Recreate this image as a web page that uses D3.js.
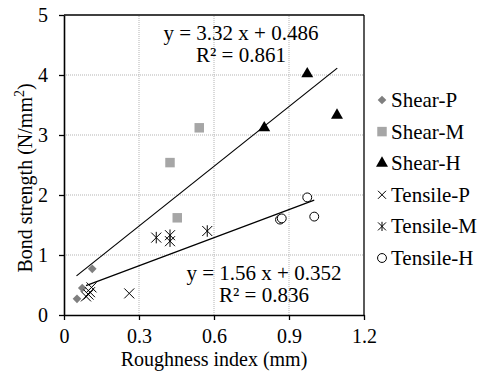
<!DOCTYPE html>
<html>
<head>
  <meta charset="UTF-8">
  <script src="https://d3js.org/d3.v7.min.js"></script>
  <style>
    body { margin: 0; background: #fff; }
    svg text { font-family: "Liberation Serif", Tinos, "Times New Roman", Times, "DejaVu Serif", serif !important; fill: #000; }
  </style>
</head>
<body>
  <div id="chart"></div>
  <script>
    // data: [roughness index (mm), bond strength (N/mm2)]
    const shearP = [[0.052, 0.27], [0.073, 0.45], [0.113, 0.77]];
    const shearM = [[0.424, 2.54], [0.453, 1.62], [0.541, 3.12]];
    const shearH = [[0.801, 3.12], [0.973, 4.02], [1.092, 3.33]];
    const tensileP = [[0.088, 0.31], [0.098, 0.34], [0.104, 0.38], [0.11, 0.46], [0.261, 0.36]];
    const tensileM = [[0.369, 1.29], [0.424, 1.33], [0.424, 1.23], [0.573, 1.40]];
    const tensileH = [[0.864, 1.59], [0.871, 1.61], [0.973, 1.96], [1.001, 1.64]];

    const seriesNames = ["Shear-P", "Shear-M", "Shear-H", "Tensile-P", "Tensile-M", "Tensile-H"];
    const xTicks = [0, 0.3, 0.6, 0.9, 1.2];
    const yTicks = [0, 1, 2, 3, 4, 5];

    // linear trend lines: slope, intercept, x range
    const trendShear = {slope: 3.32, intercept: 0.486, from: 0.05, to: 1.093, eq: "y = 3.32 x + 0.486", r2: "R² = 0.861"};
    const trendTensile = {slope: 1.56, intercept: 0.352, from: 0.088, to: 1.001, eq: "y = 1.56 x + 0.352", r2: "R² = 0.836"};

    const W = 482, H = 372;
    const svg = d3.select("#chart").append("svg")
      .attr("width", W).attr("height", H);

    const x = d3.scaleLinear().domain([0, 1.2]).range([64, 364]);
    const y = d3.scaleLinear().domain([0, 5]).range([315, 15]);

    // grid
    svg.append("g").selectAll("line")
      .data(xTicks.slice(1, -1)).enter().append("line")
      .attr("x1", d => x(d)).attr("x2", d => x(d))
      .attr("y1", y(0)).attr("y2", y(5))
      .attr("stroke", "#b3b3b3").attr("stroke-dasharray", "1,1");
    svg.append("g").selectAll("line")
      .data(yTicks.slice(1, -1)).enter().append("line")
      .attr("y1", d => y(d)).attr("y2", d => y(d))
      .attr("x1", x(0)).attr("x2", x(1.2))
      .attr("stroke", "#b3b3b3").attr("stroke-dasharray", "1,1");

    // top and right frame
    svg.append("line").attr("x1", x(0)).attr("x2", x(1.2)).attr("y1", y(5)).attr("y2", y(5))
      .attr("stroke", "#000").attr("stroke-width", 1.3);
    svg.append("line").attr("x1", x(1.2)).attr("x2", x(1.2)).attr("y1", y(5)).attr("y2", y(0))
      .attr("stroke", "#000").attr("stroke-width", 1.3);

    // axes
    const xAxis = svg.append("g")
      .attr("transform", `translate(0,${y(0)})`)
      .call(d3.axisBottom(x).tickValues(xTicks).tickFormat(d => d).tickSizeInner(5).tickSizeOuter(0).tickPadding(9));
    const yAxis = svg.append("g")
      .attr("transform", `translate(${x(0)},0)`)
      .call(d3.axisLeft(y).tickValues(yTicks).tickFormat(d => d).tickSizeInner(5).tickSizeOuter(0).tickPadding(11));
    [xAxis, yAxis].forEach(g => {
      g.attr("font-family", null);
      g.select(".domain").attr("stroke", "#000").attr("stroke-width", 1.6);
      g.selectAll(".tick line").attr("stroke", "#000").attr("stroke-width", 1.3);
      g.selectAll(".tick text").style("font-size", "20px").attr("fill", "#000");
    });

    // trend lines
    [trendShear, trendTensile].forEach(t => {
      svg.append("line")
        .attr("x1", x(t.from)).attr("y1", y(t.slope * t.from + t.intercept))
        .attr("x2", x(t.to)).attr("y2", y(t.slope * t.to + t.intercept))
        .attr("stroke", "#000").attr("stroke-width", 1.2);
    });

    // markers
    const cross = r => `M${-r},${-r}L${r},${r}M${-r},${r}L${r},${-r}`;
    const star = r => cross(r) + `M0,${-r * 1.15}L0,${r * 1.15}`;
    const markers = {
      "Shear-P": {data: shearP, path: d3.symbol(d3.symbolDiamond2, 48)(), fill: "#7f7f7f", stroke: "none"},
      "Shear-M": {data: shearM, path: d3.symbol(d3.symbolSquare, 90)(), fill: "#a6a6a6", stroke: "none"},
      "Shear-H": {data: shearH, path: d3.symbol(d3.symbolTriangle, 62)(), fill: "#000", stroke: "none"},
      "Tensile-P": {data: tensileP, path: cross(5), fill: "none", stroke: "#000"},
      "Tensile-M": {data: tensileM, path: star(5), fill: "none", stroke: "#000"},
      "Tensile-H": {data: tensileH, path: d3.symbol(d3.symbolCircle, 62)(), fill: "#fff", stroke: "#000"}
    };

    seriesNames.forEach(name => {
      const m = markers[name];
      svg.append("g").selectAll("path")
        .data(m.data).enter().append("path")
        .attr("transform", d => `translate(${x(d[0])},${y(d[1])})`)
        .attr("d", m.path)
        .attr("fill", m.fill).attr("stroke", m.stroke).attr("stroke-width", 1);
    });

    // equation labels
    const eqs = [
      {t: trendShear, cx: 241, y: 40},
      {t: trendTensile, cx: 264, y: 280}
    ];
    eqs.forEach(e => {
      svg.append("text").attr("x", e.cx).attr("y", e.y).attr("text-anchor", "middle")
        .style("font-size", "21px").text(e.t.eq);
      svg.append("text").attr("x", e.cx).attr("y", e.y + 22).attr("text-anchor", "middle")
        .style("font-size", "21px").text(e.t.r2);
    });

    // legend
    const legend = svg.append("g").attr("transform", "translate(382,100)");
    const item = legend.selectAll("g").data(seriesNames).enter().append("g")
      .attr("transform", (d, i) => `translate(0,${i * 31.6})`);
    item.append("path")
      .attr("d", d => {
        const m = markers[d];
        if (d === "Tensile-P") return cross(4);
        if (d === "Tensile-M") return star(4);
        return m.path;
      })
      .attr("fill", d => markers[d].fill).attr("stroke", d => markers[d].stroke);
    item.append("text").attr("x", 9).attr("y", 7)
      .style("font-size", "21px").text(d => d);

    // axis titles
    svg.append("text").attr("x", 214).attr("y", 366).attr("text-anchor", "middle")
      .style("font-size", "20px").text("Roughness index (mm)");
    const yt = svg.append("text")
      .attr("transform", "translate(32,178) rotate(-90)")
      .attr("text-anchor", "middle").style("font-size", "20px");
    yt.append("tspan").text("Bond strength (N/mm");
    yt.append("tspan").attr("dy", -8).style("font-size", "14px").text("2");
    yt.append("tspan").attr("dy", 8).text(")");
  </script>
</body>
</html>
